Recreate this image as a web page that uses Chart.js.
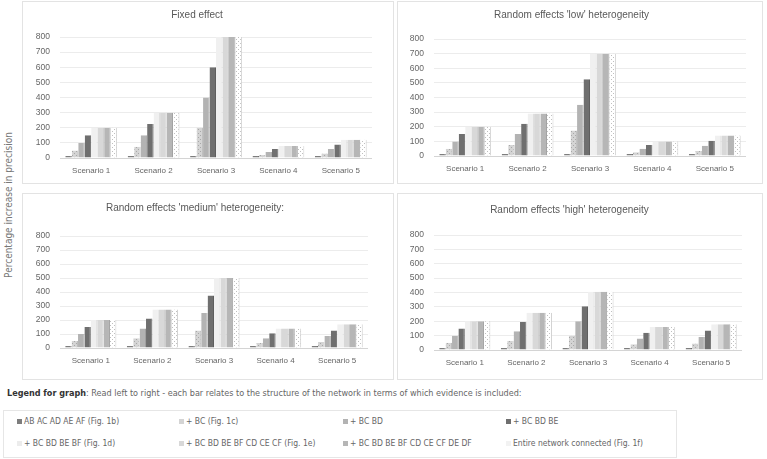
<!DOCTYPE html>
<html>
<head>
<meta charset="utf-8">
<script src="https://cdn.jsdelivr.net/npm/chart.js@4/dist/chart.umd.min.js"></script>
<style>
  body { margin: 0; background: #fff; }
  #page { position: relative; width: 767px; height: 459px; overflow: hidden;
          font-family: 'Liberation Sans Narrow', 'DejaVu Sans Condensed', 'Liberation Sans', sans-serif; }
  .frame { position: absolute; border: 1px solid #e3e3e3; box-sizing: border-box; }
  .panel { position: absolute; }
  #ytitle { position: absolute; left: 8px; top: 205px; transform: translate(-50%, -50%) rotate(-90deg);
            white-space: nowrap; font-size: 10px; color: #777; }
  #legendNote { position: absolute; left: 7px; top: 388px; font-size: 9px; color: #666; white-space: nowrap; }
  #legendNote b { color: #333; }
  #legendBox { position: absolute; left: 3px; top: 410px; width: 674px; height: 48px;
               border: 1px solid #e6e6e6; box-sizing: border-box; }
  .item { position: absolute; font-size: 8.5px; color: #666; white-space: nowrap; line-height: 10px; }
  .item i { display: inline-block; width: 5px; height: 5px; margin-right: 2px; vertical-align: 0px; }
</style>
</head>
<body>
<div id="page">
  <div class="frame" style="left:22px;top:1px;width:372px;height:183px"></div>
  <div class="frame" style="left:397px;top:1px;width:366px;height:183px"></div>
  <div class="frame" style="left:22px;top:193px;width:372px;height:187px"></div>
  <div class="frame" style="left:397px;top:193px;width:366px;height:187px"></div>
  <div class="panel" style="left:22px;top:1px;width:372px;height:183px"><canvas id="c1"></canvas></div>
  <div class="panel" style="left:397px;top:1px;width:366px;height:183px"><canvas id="c2"></canvas></div>
  <div class="panel" style="left:22px;top:193px;width:372px;height:187px"><canvas id="c3"></canvas></div>
  <div class="panel" style="left:397px;top:193px;width:366px;height:187px"><canvas id="c4"></canvas></div>
  <div id="ytitle">Percentage increase in precision</div>
  <div id="legendNote"><b>Legend for graph</b>: Read left to right - each bar relates to the structure of the network in terms of which evidence is included:</div>
  <div id="legendBox"></div>
</div>
<script>
/* categories and series */
const scenarios = ['Scenario 1', 'Scenario 2', 'Scenario 3', 'Scenario 4', 'Scenario 5'];
const seriesNames = [
  'AB AC AD AE AF (Fig. 1b)',
  '+ BC (Fig. 1c)',
  '+ BC BD',
  '+ BC BD BE',
  '+ BC BD BE BF (Fig. 1d)',
  '+ BC BD BE BF CD CE CF (Fig. 1e)',
  '+ BC BD BE BF CD CE CF DE DF',
  'Entire network connected (Fig. 1f)',
];
const yTicks = [0, 100, 200, 300, 400, 500, 600, 700, 800];

/* rows = series (legend order), columns = scenarios */
const fixedEffect = [
  [5, 5, 5, 5, 5],
  [50, 75, 200, 20, 30],
  [100, 150, 400, 40, 60],
  [150, 225, 600, 60, 90],
  [200, 300, 800, 80, 120],
  [200, 300, 800, 80, 120],
  [200, 300, 800, 80, 120],
  [200, 300, 800, 80, 120],
];
const lowHet = [
  [5, 5, 5, 5, 5],
  [50, 75, 175, 25, 35],
  [100, 150, 350, 50, 70],
  [150, 220, 525, 75, 105],
  [200, 290, 700, 100, 140],
  [200, 290, 700, 100, 140],
  [200, 290, 700, 100, 140],
  [200, 290, 700, 100, 140],
];
const mediumHet = [
  [5, 5, 5, 5, 5],
  [50, 70, 125, 35, 42],
  [100, 140, 250, 70, 85],
  [150, 210, 375, 105, 125],
  [200, 275, 500, 140, 170],
  [200, 275, 500, 140, 170],
  [200, 275, 500, 140, 170],
  [200, 275, 500, 140, 170],
];
const highHet = [
  [5, 5, 5, 5, 5],
  [50, 65, 100, 40, 45],
  [100, 130, 200, 80, 90],
  [150, 195, 305, 120, 135],
  [200, 260, 405, 160, 180],
  [200, 260, 405, 160, 180],
  [200, 260, 405, 160, 180],
  [200, 260, 405, 160, 180],
];

const FONT = "'Liberation Sans', sans-serif";

function dots(base, dot) {
  const c = document.createElement('canvas');
  c.width = 4; c.height = 4;
  const g = c.getContext('2d');
  g.fillStyle = base; g.fillRect(0, 0, 4, 4);
  g.fillStyle = dot; g.fillRect(0, 0, 1, 1); g.fillRect(2, 2, 1, 1);
  return g.createPattern(c, 'repeat');
}

const fills = [
  '#7d7d7d',
  dots('#d4d4d4', '#a8a8a8'),
  '#b3b3b3',
  '#6f6f6f',
  '#f0f0f0',
  '#d8d8d8',
  '#b6b6b6',
  dots('#ffffff', '#c0c0c0'),
];
const swatch = ['#7d7d7d', '#d4d4d4', '#b3b3b3', '#6f6f6f', '#ececec', '#d8d8d8', '#b6b6b6', '#f2f2f2'];
const edges = ['#6a6a6a', '#bdbdbd', '#a0a0a0', '#5e5e5e', '#dcdcdc', '#c6c6c6', '#a3a3a3', '#d0d0d0'];

function makeChart(id, title, rows, box) {
  new Chart(document.getElementById(id), {
    type: 'bar',
    data: {
      labels: scenarios,
      datasets: rows.map((vals, i) => ({
        label: seriesNames[i],
        data: vals,
        backgroundColor: fills[i],
        borderColor: edges[i],
        borderWidth: { top: 0, left: 0, bottom: 0, right: 1 },
        borderSkipped: false,
        barPercentage: 1,
        categoryPercentage: 0.83,
        minBarLength: 2,
      })),
    },
    options: {
      animation: false,
      responsive: true,
      maintainAspectRatio: false,
      layout: { padding: { left: 0, right: box.right, top: 0, bottom: 0 } },
      scales: {
        x: {
          grid: { display: false, drawTicks: false },
          border: { display: false },
          ticks: { color: '#666', font: { family: FONT, size: 8 }, padding: 8 },
          afterFit: s => { s.height = box.xh; },
        },
        y: {
          min: 0, max: 800,
          afterBuildTicks: s => { s.ticks = yTicks.map(v => ({ value: v })); },
          grid: {
            drawTicks: false,
            color: c => c.tick && c.tick.value === 0 ? '#d4d4d4' : '#ececec',
          },
          border: { display: false },
          ticks: { color: '#666', font: { family: FONT, size: 8.5 }, padding: 10 },
          afterFit: s => { s.width = box.left; },
        },
      },
      plugins: {
        legend: { display: false },
        tooltip: { enabled: false },
        title: {
          display: true, text: title, color: '#595959',
          font: { family: FONT, size: 10, weight: 'normal' },
          padding: { top: box.tt, bottom: box.tb },
        },
      },
    },
  });
}

makeChart('c1', 'Fixed effect', fixedEffect, { left: 38, right: 22, xh: 26, tt: 8, tb: 16 });
makeChart('c2', "Random effects 'low' heterogeneity", lowHet, { left: 37, right: 17, xh: 28, tt: 8, tb: 18 });
makeChart('c3', "Random effects 'medium' heterogeneity:", mediumHet, { left: 38, right: 26, xh: 32, tt: 9, tb: 22 });
makeChart('c4', "Random effects 'high' heterogeneity", highHet, { left: 37, right: 21, xh: 30, tt: 11, tb: 19 });

/* legend */
const cols = [13, 175, 339, 502];
const box = document.getElementById('legendBox');
seriesNames.forEach((name, i) => {
  const d = document.createElement('div');
  d.className = 'item';
  d.style.left = cols[i % 4] + 'px';
  d.style.top = (i < 4 ? 5 : 27) + 'px';
  const sw = document.createElement('i');
  sw.style.background = swatch[i];
  d.appendChild(sw);
  d.appendChild(document.createTextNode(name));
  box.appendChild(d);
});
</script>
</body>
</html>
